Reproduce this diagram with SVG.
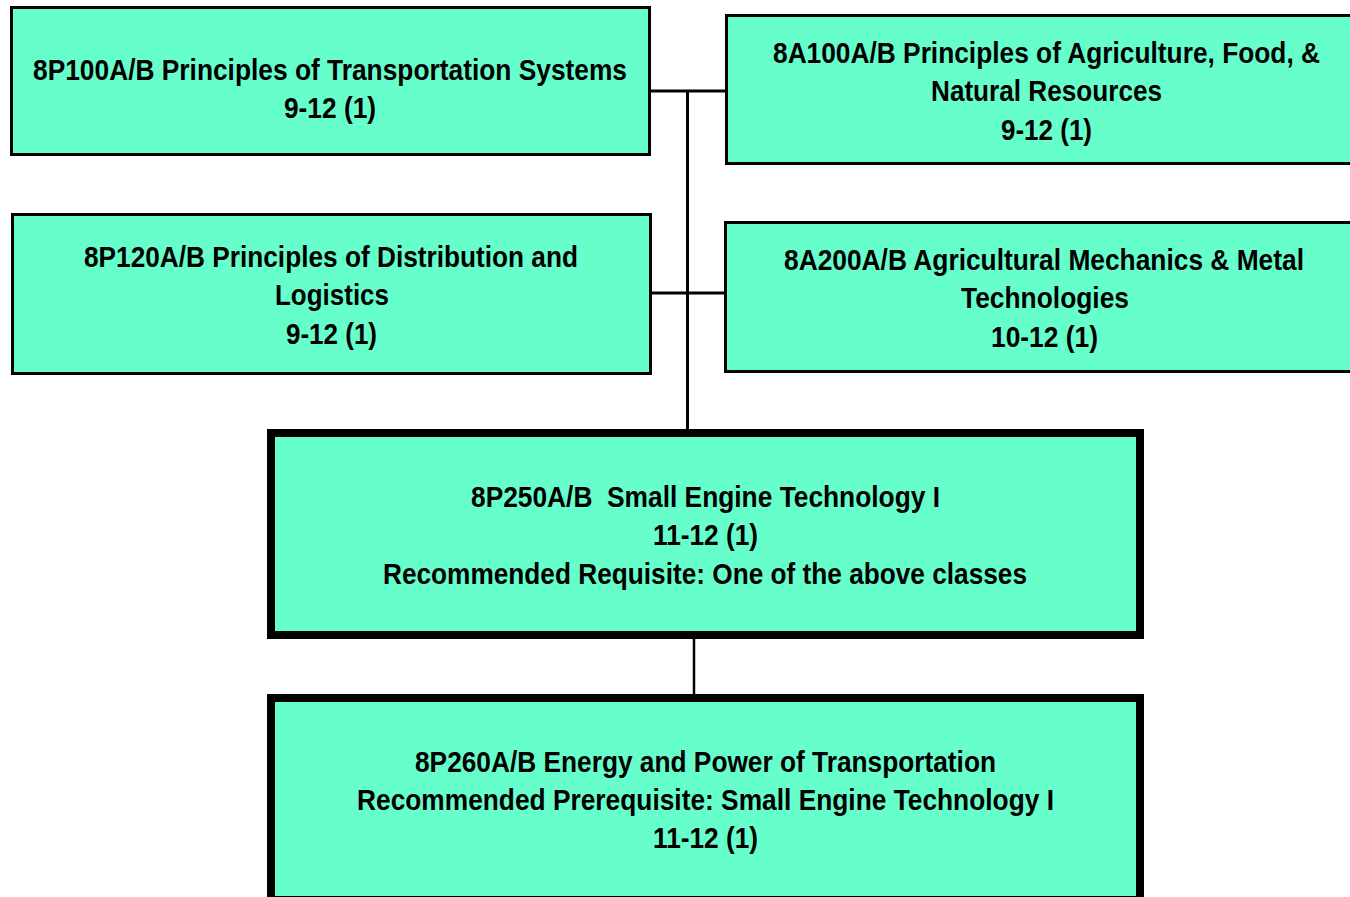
<svg xmlns="http://www.w3.org/2000/svg" width="1350" height="897" viewBox="0 0 1350 897">
<style>
.box{fill:#66FFCC;stroke:#000;stroke-width:3}
.thick{fill:#66FFCC;stroke:#000;stroke-width:8}
.t{font-family:"Liberation Sans",Arial,sans-serif;font-weight:bold;font-size:29.5px;fill:#000;text-anchor:middle}
.c{stroke:#000;stroke-width:3;fill:none}
</style>
<rect width="1350" height="897" fill="#fff"/>
<g id="connectors">
<line class="c" x1="651" y1="91" x2="725" y2="91"/>
<line class="c" x1="687.5" y1="91" x2="687.5" y2="430"/>
<line class="c" x1="652" y1="293" x2="724" y2="293"/>
<line class="c" x1="694" y1="638" x2="694" y2="695" style="stroke-width:2.5"/>
</g>
<g id="n8P100">
<rect class="box" x="11.5" y="7.5" width="638" height="147"/>
<text class="t" x="330" y="80" textLength="594" lengthAdjust="spacingAndGlyphs">8P100A/B Principles of Transportation Systems</text>
<text class="t" x="330" y="118" textLength="92" lengthAdjust="spacingAndGlyphs">9-12 (1)</text>
</g>
<g id="n8A100">
<rect class="box" x="726.5" y="15.5" width="700" height="148"/>
<text class="t" x="1046.5" y="63" textLength="547" lengthAdjust="spacingAndGlyphs">8A100A/B Principles of Agriculture, Food, &amp;</text>
<text class="t" x="1046.5" y="101" textLength="231" lengthAdjust="spacingAndGlyphs">Natural Resources</text>
<text class="t" x="1046.5" y="140" textLength="91" lengthAdjust="spacingAndGlyphs">9-12 (1)</text>
</g>
<g id="n8P120">
<rect class="box" x="12.5" y="214.5" width="638" height="159"/>
<text class="t" x="331" y="267" textLength="494" lengthAdjust="spacingAndGlyphs">8P120A/B Principles of Distribution and</text>
<text class="t" x="332" y="305" textLength="114" lengthAdjust="spacingAndGlyphs">Logistics</text>
<text class="t" x="331.5" y="344" textLength="91" lengthAdjust="spacingAndGlyphs">9-12 (1)</text>
</g>
<g id="n8A200">
<rect class="box" x="725.5" y="222.5" width="700" height="149"/>
<text class="t" x="1044" y="270" textLength="520" lengthAdjust="spacingAndGlyphs">8A200A/B Agricultural Mechanics &amp; Metal</text>
<text class="t" x="1045" y="308" textLength="168" lengthAdjust="spacingAndGlyphs">Technologies</text>
<text class="t" x="1044.5" y="347" textLength="107" lengthAdjust="spacingAndGlyphs">10-12 (1)</text>
</g>
<g id="n8P250">
<rect class="thick" x="271" y="433" width="869" height="202"/>
<text class="t" x="705.5" y="507" textLength="469" lengthAdjust="spacingAndGlyphs" xml:space="preserve">8P250A/B  Small Engine Technology I</text>
<text class="t" x="705.5" y="545" textLength="105" lengthAdjust="spacingAndGlyphs">11-12 (1)</text>
<text class="t" x="705" y="584" textLength="644" lengthAdjust="spacingAndGlyphs">Recommended Requisite: One of the above classes</text>
</g>
<g id="n8P260">
<rect class="thick" x="271" y="698" width="869" height="202"/>
<text class="t" x="705.5" y="772" textLength="581" lengthAdjust="spacingAndGlyphs">8P260A/B Energy and Power of Transportation</text>
<text class="t" x="705.5" y="810" textLength="697" lengthAdjust="spacingAndGlyphs">Recommended Prerequisite: Small Engine Technology I</text>
<text class="t" x="705.5" y="848" textLength="105" lengthAdjust="spacingAndGlyphs">11-12 (1)</text>
</g>
</svg>
